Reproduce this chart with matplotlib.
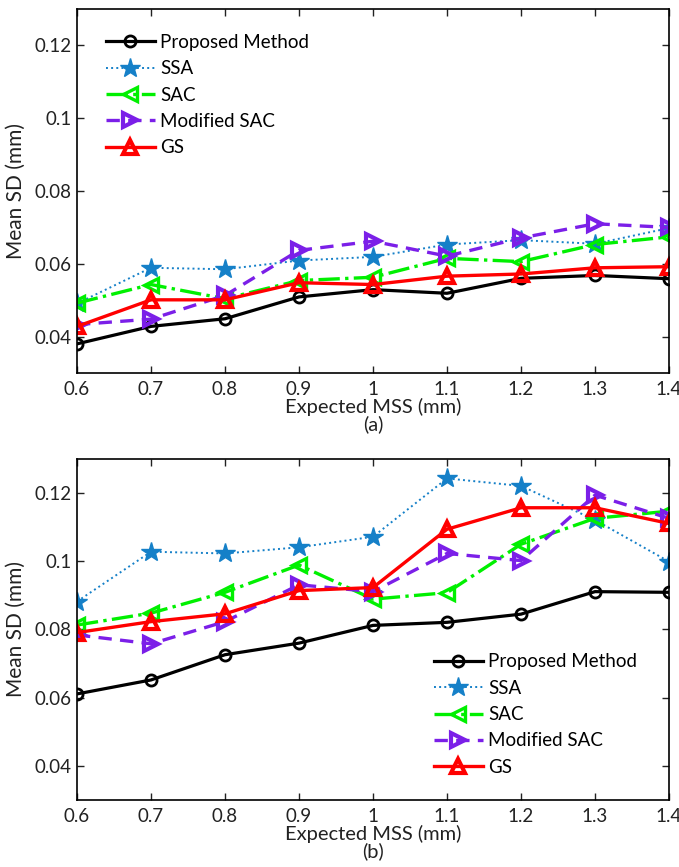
import numpy as np
import matplotlib
matplotlib.use('Agg')
import matplotlib.pyplot as plt

plt.rcParams['font.family'] = ['Lato', 'DejaVu Sans']
plt.rcParams['font.size'] = 13

mss = [0.6, 0.7, 0.8, 0.9, 1.0, 1.1, 1.2, 1.3, 1.4]
methods = ['Proposed Method', 'SSA', 'SAC', 'Modified SAC', 'GS']

# panel (a)
proposed_a = [0.0380, 0.0428, 0.0449, 0.0509, 0.0529, 0.0519, 0.0560, 0.0568, 0.0559]
ssa_a = [0.0491, 0.0589, 0.0585, 0.0609, 0.0619, 0.0653, 0.0665, 0.0655, 0.0698]
sac_a = [0.0492, 0.0543, 0.0504, 0.0554, 0.0563, 0.0615, 0.0606, 0.0653, 0.0674]
msac_a = [0.0433, 0.0448, 0.0513, 0.0637, 0.0662, 0.0621, 0.0671, 0.0710, 0.0700]
gs_a = [0.0428, 0.0501, 0.0501, 0.0548, 0.0543, 0.0566, 0.0572, 0.0589, 0.0592]

# panel (b)
proposed_b = [0.0611, 0.0652, 0.0726, 0.0760, 0.0812, 0.0821, 0.0845, 0.0911, 0.0909]
ssa_b = [0.0882, 0.1028, 0.1023, 0.1041, 0.1072, 0.1243, 0.1221, 0.1121, 0.0999]
sac_b = [0.0813, 0.0848, 0.0909, 0.0989, 0.0889, 0.0908, 0.1050, 0.1126, 0.1147]
msac_b = [0.0784, 0.0758, 0.0823, 0.0931, 0.0911, 0.1023, 0.1002, 0.1194, 0.1126]
gs_b = [0.0791, 0.0823, 0.0846, 0.0914, 0.0923, 0.1094, 0.1157, 0.1157, 0.1111]

styles = [
    dict(color='black', linestyle='-', linewidth=2.3, marker='o', markersize=8,
         markerfacecolor='none', markeredgewidth=2.0),
    dict(color='#1580c8', linestyle=':', linewidth=1.4, marker='*', markersize=15,
         markerfacecolor='#1580c8', markeredgewidth=1.0),
    dict(color='#00f000', linestyle='-.', linewidth=2.4, marker='<', markersize=10,
         markerfacecolor='none', markeredgewidth=2.4),
    dict(color='#7b1fe8', linestyle='--', dashes=(4, 2.5), linewidth=2.4, marker='>',
         markersize=10, markerfacecolor='none', markeredgewidth=3.0),
    dict(color='#ff0000', linestyle='-', linewidth=2.4, marker='^', markersize=10,
         markerfacecolor='none', markeredgewidth=3.0),
]

fig = plt.figure(figsize=(6.79, 8.67), dpi=100)
ax_a = fig.add_axes([0.1134, 0.5698, 0.8719, 0.4198])
ax_b = fig.add_axes([0.1134, 0.0773, 0.8719, 0.3933])

panels = [
    (ax_a, [proposed_a, ssa_a, sac_a, msac_a, gs_a], '(a)', (0.049, 0.932)),
    (ax_b, [proposed_b, ssa_b, sac_b, msac_b, gs_b], '(b)', (0.603, 0.43)),
]

for ax, series, tag, legpos in panels:
    for name, vals, st in zip(methods, series, styles):
        ax.plot(mss, vals, label=name, **st)
    ax.set_xlim(0.6, 1.4)
    ax.set_ylim(0.03, 0.13)
    ax.set_xticks(mss)
    ax.set_xticklabels(['0.6', '0.7', '0.8', '0.9', '1', '1.1', '1.2', '1.3', '1.4'])
    ax.set_yticks([0.04, 0.06, 0.08, 0.1, 0.12])
    ax.set_yticklabels(['0.04', '0.06', '0.08', '0.1', '0.12'])
    ax.tick_params(direction='in', length=5, width=1, top=True, right=True,
                   colors='#222222', labelcolor='#222222', labelsize=13.5)
    ax.tick_params(axis='x', pad=6)
    ax.tick_params(axis='y', pad=4)
    for sp in ax.spines.values():
        sp.set_linewidth(1.2)
    ax.set_ylabel('Mean SD (mm)', color='#222222', labelpad=6, fontsize=15)
    ax.set_xlabel('Expected MSS (mm)\n' + tag, color='#222222', labelpad=0,
                  linespacing=0.95, fontsize=14.5)
    ax.legend(loc='upper left', bbox_to_anchor=legpos, frameon=False,
              borderpad=0, borderaxespad=0, handlelength=2.6, handletextpad=0.3,
              labelspacing=0.5, fontsize=13.5)

fig.savefig('out.png', dpi=100)
